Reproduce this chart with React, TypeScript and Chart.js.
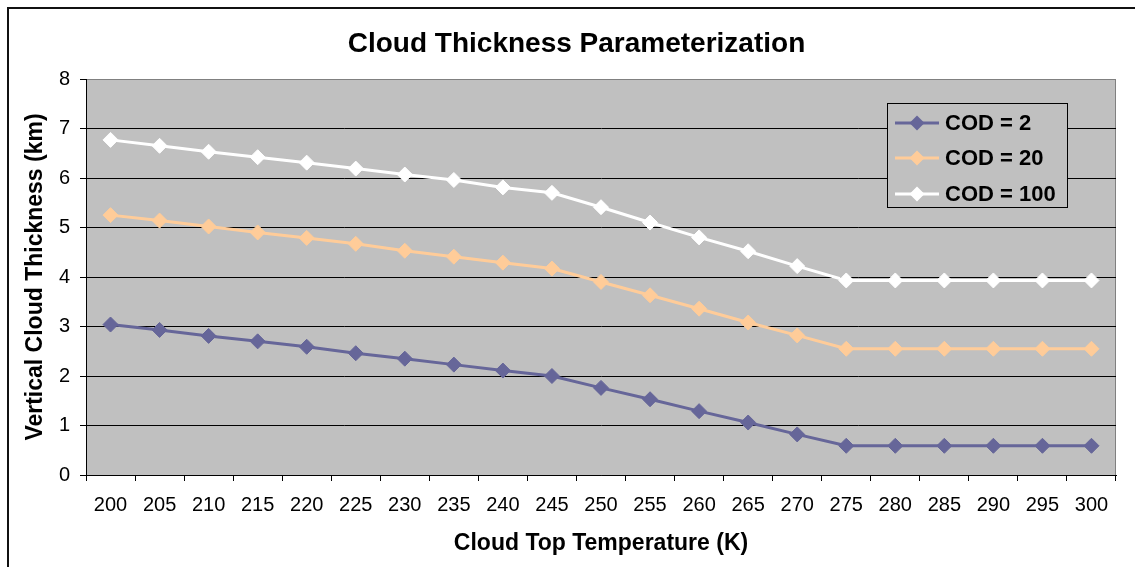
import React, { useEffect, useRef } from "react";
import { Chart, registerables } from "chart.js";

Chart.register(...registerables);

const FONT = "'Liberation Sans', Arial, Helvetica, sans-serif";

const temperatures = ["200", "205", "210", "215", "220", "225", "230", "235", "240", "245", "250", "255", "260", "265", "270", "275", "280", "285", "290", "295", "300"];
const cod2 = [3.04, 2.93, 2.81, 2.70, 2.59, 2.46, 2.35, 2.23, 2.11, 2.00, 1.76, 1.53, 1.29, 1.06, 0.82, 0.59, 0.59, 0.59, 0.59, 0.59, 0.59];
const cod20 = [5.25, 5.14, 5.02, 4.90, 4.79, 4.67, 4.53, 4.41, 4.29, 4.17, 3.90, 3.63, 3.36, 3.08, 2.82, 2.55, 2.55, 2.55, 2.55, 2.55, 2.55];
const cod100 = [6.77, 6.65, 6.53, 6.42, 6.31, 6.19, 6.07, 5.96, 5.81, 5.70, 5.41, 5.10, 4.80, 4.52, 4.22, 3.93, 3.93, 3.93, 3.93, 3.93, 3.93];
const seriesNames = ["COD = 2", "COD = 20", "COD = 100"];
const seriesColors = ["#666699", "#FFCC99", "#FFFFFF"];
const yMin = 0;
const yMax = 8;
const yStep = 1;

const plotBackground = {
  id: "plotBackground",
  beforeDraw(chart: any) {
    const { ctx, chartArea } = chart;
    const { left, top, right, bottom } = chartArea;
    ctx.save();
    ctx.fillStyle = "#C0C0C0";
    ctx.fillRect(left, top, right - left, bottom - top);
    ctx.strokeStyle = "#808080";
    ctx.lineWidth = 1;
    ctx.beginPath();
    ctx.moveTo(left, Math.round(top) + 0.5);
    ctx.lineTo(Math.round(right) - 0.5, Math.round(top) + 0.5);
    ctx.lineTo(Math.round(right) - 0.5, bottom);
    ctx.stroke();
    ctx.restore();
  },
};

const boxLegend = {
  id: "boxLegend",
  afterDraw(chart: any) {
    const { ctx } = chart;
    const bx = 887, by = 103, bw = 180, bh = 104;
    ctx.save();
    ctx.fillStyle = "#C0C0C0";
    ctx.fillRect(bx, by, bw, bh);
    ctx.strokeStyle = "#000";
    ctx.lineWidth = 1;
    ctx.strokeRect(bx + 0.5, by + 0.5, bw, bh);
    const rows = [123, 158, 194];
    chart.data.datasets.forEach((ds: any, i: number) => {
      const y = rows[i];
      const color = ds.borderColor;
      ctx.strokeStyle = color;
      ctx.lineWidth = 3;
      ctx.beginPath();
      ctx.moveTo(895, y);
      ctx.lineTo(939, y);
      ctx.stroke();
      ctx.fillStyle = color;
      const r = 7.5;
      ctx.beginPath();
      ctx.moveTo(917, y - r);
      ctx.lineTo(917 + r, y);
      ctx.lineTo(917, y + r);
      ctx.lineTo(917 - r, y);
      ctx.closePath();
      ctx.fill();
      ctx.fillStyle = "#000";
      ctx.font = `bold 22px ${FONT}`;
      ctx.textBaseline = "middle";
      ctx.textAlign = "left";
      ctx.fillText(ds.label, 945, y + 1);
    });
    ctx.restore();
  },
};

export default function App() {
  const ref = useRef<HTMLCanvasElement | null>(null);

  useEffect(() => {
    if (!ref.current) return;
    const series = [cod2, cod20, cod100];
    const chart = new Chart(ref.current, {
      type: "line",
      data: {
        labels: temperatures,
        datasets: series.map((values, i) => ({
          label: seriesNames[i],
          data: values,
          borderColor: seriesColors[i],
          backgroundColor: seriesColors[i],
          pointBackgroundColor: seriesColors[i],
          pointBorderColor: seriesColors[i],
          borderWidth: 3,
          pointStyle: "rectRot",
          pointRadius: 7.5,
          pointBorderWidth: 1,
          tension: 0,
          fill: false,
        })),
      },
      options: {
        responsive: false,
        animation: false,
        devicePixelRatio: 1,
        layout: { padding: 0 },
        plugins: {
          legend: { display: false },
          tooltip: { enabled: false },
          title: {
            display: true,
            text: "Cloud Thickness Parameterization",
            color: "#000",
            font: { size: 28, weight: "bold", family: FONT },
            padding: { top: 27.5, bottom: 17.9 },
          },
        },
        scales: {
          x: {
            type: "category",
            offset: true,
            ticks: { color: "#000", font: { size: 20, family: FONT }, padding: 12, autoSkip: false, maxRotation: 0 },
            grid: { offset: true, drawOnChartArea: false, drawTicks: true, tickLength: 6, color: "#000", tickColor: "#000" },
            border: { display: true, color: "#000", width: 1 },
            title: {
              display: true,
              text: "Cloud Top Temperature (K)",
              color: "#000",
              font: { size: 23, weight: "bold", family: FONT },
              padding: { top: 0, bottom: 10 },
            },
            afterFit: (s: any) => { s.height = 92; },
          },
          y: {
            min: yMin,
            max: yMax,
            ticks: { stepSize: yStep, color: "#000", font: { size: 20, family: FONT }, padding: 10 },
            grid: {
              color: (c: any) => (c.tick && c.tick.value === yMax ? "#808080" : "#000"),
              lineWidth: 1,
              drawTicks: true,
              tickLength: 6,
              tickColor: "#000",
            },
            border: { display: true, color: "#000", width: 1 },
            title: {
              display: true,
              text: "Vertical Cloud Thickness (km)",
              color: "#000",
              font: { size: 23, weight: "bold", family: FONT },
              padding: { top: 22, bottom: 0 },
            },
            afterFit: (s: any) => { s.width = 86; },
          },
          spacer: {
            type: "linear",
            position: "right",
            display: true,
            grid: { display: false },
            ticks: { display: false },
            border: { display: false },
            afterFit: (s: any) => { s.width = 37; },
          },
        },
      } as any,
      plugins: [plotBackground, boxLegend],
    });
    return () => chart.destroy();
  }, []);

  return (
    <div style={{ position: "fixed", left: 0, top: 0, width: 1135, height: 567, overflow: "hidden", background: "#fff" }}>
      <div style={{ position: "absolute", left: 7, top: 7, width: 1300, height: 700, borderTop: "2px solid #111", borderLeft: "2px solid #111" }} />
      <canvas ref={ref} width={1153} height={567} style={{ position: "absolute", left: 0, top: 0, width: 1153, height: 567 }} />
    </div>
  );
}
